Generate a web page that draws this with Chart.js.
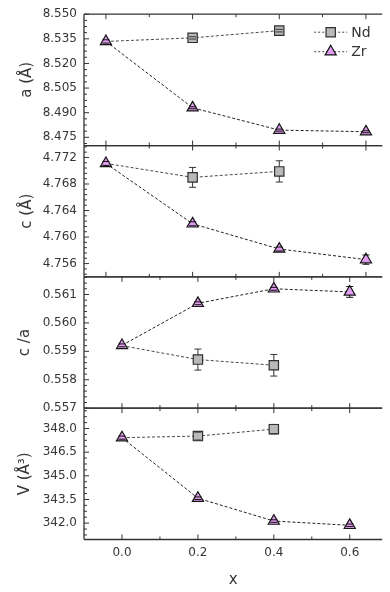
<!DOCTYPE html>
<html><head><meta charset="utf-8">
<script src="https://cdn.jsdelivr.net/npm/chart.js@4.4.1/dist/chart.umd.min.js"></script>
<style>html,body{margin:0;padding:0;background:#fff;}#wrap{width:390px;height:592px;position:relative;}</style>
</head><body><div id="wrap"><canvas id="c" width="390" height="592"></canvas></div>
<script>
// ---- data ----
const xValues = [0.0, 0.2, 0.4, 0.6];
const xTickValues = [0.0, 0.2, 0.4, 0.6];

const aNd = [8.5334, 8.5356, 8.5400];
const aNdErr = [0.0006, 0.0007, 0.0008];
const aZr = [8.5334, 8.4930, 8.4794, 8.4784];
const aZrErr = [0.0010, 0.0006, 0.0006, 0.0006];
const aTicks = [8.475, 8.490, 8.505, 8.520, 8.535, 8.550];

const cNd = [4.7711, 4.7690, 4.7699];
const cNdErr = [0.0003, 0.0015, 0.0016];
const cZr = [4.7711, 4.7620, 4.7582, 4.7566];
const cZrErr = [0.0003, 0.0003, 0.0003, 0.0007];
const cTicks = [4.756, 4.760, 4.764, 4.768, 4.772];

const caNd = [0.55920, 0.55871, 0.55851];
const caNdErr = [0.00004, 0.00037, 0.00038];
const caZr = [0.55921, 0.56069, 0.56120, 0.56109];
const caZrErr = [0.00005, 0.00005, 0.00005, 0.00019];
const caTicks = [0.557, 0.558, 0.559, 0.560, 0.561];

const vNd = [347.42, 347.52, 347.96];
const vNdErr = [0.08, 0.25, 0.30];
const vZr = [347.42, 343.58, 342.13, 341.86];
const vZrErr = [0.10, 0.08, 0.08, 0.08];
const vTicks = [342.0, 343.5, 345.0, 346.5, 348.0];

const seriesNames = ['Nd', 'Zr'];

// ---- styles ----
const FONT = 'DejaVu Sans';
const TXT = '#363636';
const NdFill = '#b9b9b9', NdEdge = '#2e2e2e';
const ZrFill = '#e29cf0', ZrEdge = '#151515';

function pts(vals) { return vals.map((v, i) => ({x: xValues[i], y: v})); }

function ds(name, vals, errs, xId, yId) {
  const nd = name === 'Nd';
  // the Nd marker at x = 0 is hidden under the shared Zr marker in the original
  const rad = nd ? (c => (c.dataIndex === 0 ? 0 : 6.6)) : 6.4;
  return {
    label: name, data: pts(vals), errors: errs,
    xAxisID: xId, yAxisID: yId, showLine: true,
    borderColor: nd ? '#4a4a4a' : '#222222', borderWidth: 1, borderDash: [3, 2],
    pointStyle: nd ? 'rect' : 'triangle',
    pointRadius: rad, pointHoverRadius: rad,
    pointBackgroundColor: nd ? NdFill : ZrFill,
    pointBorderColor: nd ? NdEdge : ZrEdge, pointBorderWidth: 1.2,
    order: nd ? 2 : 1
  };
}

function yScale(min, max, ticksArr, title, dec, weight, tpad) {
  return {
    type: 'linear', position: 'left', stack: 'panels', stackWeight: 1, weight: weight,
    min: min, max: max,
    afterBuildTicks: s => { s.ticks = ticksArr.map(v => ({value: v})); },
    afterFit: s => { s.width = 84; },
    ticks: {autoSkip: false, padding: 7, color: TXT, font: {family: FONT, size: 12},
            callback: v => Number(v).toFixed(dec)},
    grid: {display: false, drawTicks: false},
    border: {display: false},
    title: {display: true, text: title, color: TXT, font: {family: FONT, size: 15},
            padding: {top: tpad, bottom: 0}}
  };
}

const panels = [
  {y: 'yA', x: 'xTop', minor: 3},
  {y: 'yC', x: 'xTop', minor: 4},
  {y: 'yCA', x: 'x', minor: 4},
  {y: 'yV', x: 'x', minor: 3}
];

const framePlugin = {
  id: 'frame',
  beforeDatasetsDraw(chart) {
    const ctx = chart.ctx, ca = chart.chartArea;
    ctx.save();
    ctx.strokeStyle = '#333'; ctx.lineWidth = 1.3;
    panels.forEach(p => {
      const ys = chart.scales[p.y], xs = chart.scales[p.x];
      const top = ys.top, bot = ys.bottom, L = ca.left, R = ca.right;
      ctx.lineWidth = 1.3;
      ctx.beginPath();
      ctx.moveTo(L, top); ctx.lineTo(R, top);
      ctx.moveTo(L, bot); ctx.lineTo(R, bot);
      ctx.moveTo(L, top); ctx.lineTo(L, bot);
      ctx.stroke();
      // y ticks (inward)
      ctx.lineWidth = 1;
      const tv = ys.ticks.map(t => t.value);
      const step = tv[1] - tv[0];
      ctx.beginPath();
      tv.forEach(v => { const py = ys.getPixelForValue(v); ctx.moveTo(L, py); ctx.lineTo(L + 5, py); });
      for (let k = -1; k < tv.length; k++) {
        for (let m = 1; m <= p.minor; m++) {
          const vv = tv[0] + k * step + m * step / (p.minor + 1);
          const py = ys.getPixelForValue(vv);
          if (py > top + 0.5 && py < bot - 0.5) { ctx.moveTo(L, py); ctx.lineTo(L + 3, py); }
        }
      }
      ctx.stroke();
      // x ticks at top and bottom of each panel (inward)
      ctx.beginPath();
      xTickValues.forEach(v => {
        const px = xs.getPixelForValue(v);
        ctx.moveTo(px, top); ctx.lineTo(px, top + 5);
        ctx.moveTo(px, bot); ctx.lineTo(px, bot - 5);
      });
      xTickValues.forEach(v0 => {
        const px = xs.getPixelForValue(v0 + 0.1);
        if (px < R - 1) {
          ctx.moveTo(px, top); ctx.lineTo(px, top + 3);
          ctx.moveTo(px, bot); ctx.lineTo(px, bot - 3);
        }
      });
      ctx.stroke();
    });
    ctx.restore();
  },
  afterDatasetsDraw(chart) {
    const ctx = chart.ctx;
    ctx.save();
    chart.data.datasets.forEach((d, di) => {
      const meta = chart.getDatasetMeta(di);
      const ys = chart.scales[d.yAxisID];
      const nd = d.label === 'Nd';
      ctx.strokeStyle = nd ? '#333' : '#111';
      ctx.lineWidth = 1;
      d.data.forEach((pt, i) => {
        if (nd && i === 0) return;
        const e = d.errors[i];
        const el = meta.data[i];
        const px = el.x, py = el.y;
        const yT = ys.getPixelForValue(pt.y + e), yB = ys.getPixelForValue(pt.y - e);
        const upEdge = nd ? 4.7 : 6.4, dnEdge = nd ? 4.7 : 3.2;
        ctx.beginPath();
        if (py - yT > upEdge) { ctx.moveTo(px, py - upEdge); ctx.lineTo(px, yT); }
        if (yB - py > dnEdge) { ctx.moveTo(px, py + dnEdge); ctx.lineTo(px, yB); }
        ctx.moveTo(px - 3.5, yT); ctx.lineTo(px + 3.5, yT);
        ctx.moveTo(px - 3.5, yB); ctx.lineTo(px + 3.5, yB);
        ctx.stroke();
      });
    });
    ctx.restore();
  },
  afterDraw(chart) {
    const ctx = chart.ctx, ca = chart.chartArea;
    ctx.save();
    const rows = [
      {name: seriesNames[0], y: ca.top + 18, style: 'rect', r: 6.6, fill: NdFill, edge: NdEdge},
      {name: seriesNames[1], y: ca.top + 37.5, style: 'triangle', r: 6.4, fill: ZrFill, edge: ZrEdge}
    ];
    rows.forEach(r => {
      ctx.strokeStyle = '#444'; ctx.lineWidth = 1; ctx.setLineDash([2, 2]);
      ctx.beginPath(); ctx.moveTo(ca.right - 68, r.y); ctx.lineTo(ca.right - 35, r.y); ctx.stroke();
      ctx.setLineDash([]);
      ctx.fillStyle = r.fill; ctx.strokeStyle = r.edge; ctx.lineWidth = 1.2;
      Chart.helpers.drawPoint(ctx, {pointStyle: r.style, radius: r.r, borderWidth: 1.2, rotation: 0}, ca.right - 51.5, r.y);
      ctx.fillStyle = TXT; ctx.font = '14px "' + FONT + '"'; ctx.textBaseline = 'middle'; ctx.textAlign = 'left';
      ctx.fillText(r.name, ca.right - 31, r.y + 1);
    });
    ctx.restore();
  }
};

const datasets = [
  ds('Zr', aZr, aZrErr, 'xTop', 'yA'),
  ds('Nd', aNd, aNdErr, 'xTop', 'yA'),
  ds('Zr', cZr, cZrErr, 'xTop', 'yC'),
  ds('Nd', cNd, cNdErr, 'xTop', 'yC'),
  ds('Zr', caZr, caZrErr, 'x', 'yCA'),
  ds('Nd', caNd, caNdErr, 'x', 'yCA'),
  ds('Zr', vZr, vZrErr, 'x', 'yV'),
  ds('Nd', vNd, vNdErr, 'x', 'yV')
];

new Chart(document.getElementById('c'), {
  type: 'scatter',
  data: {datasets: datasets},
  plugins: [framePlugin],
  options: {
    responsive: false, animation: false,
    layout: {padding: {top: 9.5, left: 0, right: 0, bottom: 0}},
    plugins: {legend: {display: false}, tooltip: {enabled: false}},
    scales: {
      xTop: {type: 'linear', display: false, position: 'top', min: -0.0506, max: 0.6375},
      x: {
        type: 'linear', position: 'bottom', min: -0.1001, max: 0.6855,
        afterBuildTicks: s => { s.ticks = xTickValues.map(v => ({value: v})); },
        afterFit: s => { s.height = 52.5; },
        ticks: {autoSkip: false, maxRotation: 0, padding: 6, color: TXT, font: {family: FONT, size: 12},
                callback: v => Number(v).toFixed(1)},
        grid: {display: false, drawTicks: false},
        border: {display: false},
        title: {display: true, text: 'x', color: TXT, font: {family: FONT, size: 15}, padding: {top: 0, bottom: 3}}
      },
      yA: yScale(8.470, 8.550, aTicks, 'a (Å)', 3, 4, 18),
      yC: yScale(4.754, 4.7738, cTicks, 'c (Å)', 3, 3, 18),
      yCA: yScale(0.557, 0.56162, caTicks, 'c /a', 3, 2, 16),
      yV: yScale(340.96, 349.29, vTicks, 'V (Å³)', 1, 1, 16)
    }
  }
});
</script></body></html>
